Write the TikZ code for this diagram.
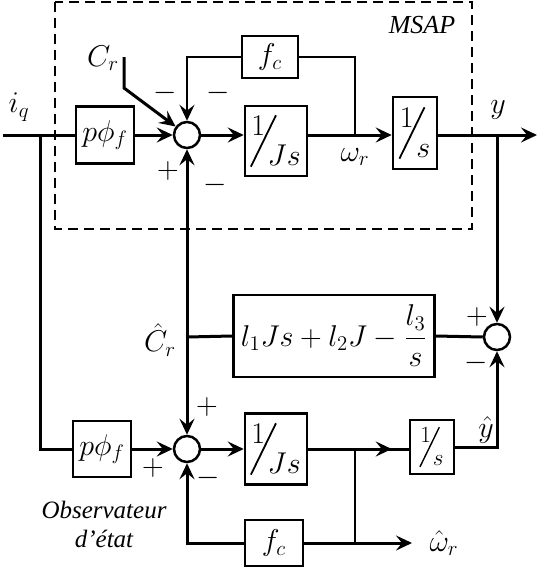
\documentclass[tikz,border=0pt]{standalone}
\usepackage{amsmath}
\usepackage{graphicx}
\usepackage{fontspec}
\setmainfont{Liberation Serif}
\usetikzlibrary{arrows.meta}
% slanted fraction as in the block diagram
\newcommand{\slfrac}[2]{\raisebox{.5em}{$#1$}\kern-.5em\raisebox{-.55em}{\rotatebox{64}{\rule{1.9em}{.06em}}}\kern-.3em\raisebox{-.5em}{$#2$}}
% math at a larger size
\newcommand{\mth}[1]{\scalebox{1.45}{$#1$}}

\begin{document}
\begin{tikzpicture}[x=1pt, y=-1pt,
        blk/.style={draw, line width=2.5pt, inner sep=0pt, font=\fontsize{20.74}{25}\selectfont},
        sumnode/.style={draw, circle, line width=2.5pt, minimum size=26pt, inner sep=0pt},
        sig/.style={line width=3pt},
        thinsig/.style={line width=2pt},
        arr/.style={-{Stealth[length=16pt, width=15pt, inset=6pt]}},
        lbl/.style={font=\fontsize{20.74}{25}\selectfont, inner sep=0pt},
        sgn/.style={font=\fontsize{20.74}{25}\selectfont, inner sep=0pt}]
        \useasboundingbox (0,0) rectangle (541,568);

        % MSAP
        \draw[line width=2.5pt, dash pattern=on 10pt off 6pt] (55,2) rectangle (472,229);
        \node[font=\itshape\fontsize{26}{30}\selectfont] (msap) at (422,25) {MSAP};

        \node[blk, minimum width=58pt, minimum height=57pt] (pf1) at (105,135) {\mth{p\phi_f}};
        \node[sumnode] (sum1) at (187,135) {};
        \node[blk, minimum width=56pt, minimum height=42pt] (fc1) at (270,57) {\mth{f_c}};
        \node[blk, minimum width=62pt, minimum height=70pt] (js1) at (276,141) {\scalebox{1.45}{\slfrac{1}{Js}}};
        \node[blk, minimum width=44pt, minimum height=72pt] (s1) at (415,133) {\scalebox{1.45}{\slfrac{1}{s}}};

        \node[lbl] (iq) at (19,107) {\mth{i_q}};
        \node[lbl] (cr) at (103,58) {\mth{C_r}};
        \node[lbl] (wr) at (355,157) {\mth{\omega_r}};
        \node[lbl] (y) at (498,110) {\mth{y}};

        \node[sgn] (m1) at (165,93) {\mth{-}};
        \node[sgn] (m2) at (218,93) {\mth{-}};
        \node[sgn] (p1) at (168,171) {\mth{+}};
        \node[sgn] (m3) at (215,185) {\mth{-}};

        \coordinate (iqin) at (3,135);
        \coordinate (iqj) at (40,135);
        \coordinate (crs) at (124,57);
        \coordinate (crk) at (124,88);
        \coordinate (wrj) at (355,135);
        \coordinate (yj) at (497,135);
        \coordinate (yout) at (537,135);

        \draw[sig] (iqin) -- (pf1.west);
        \draw[sig, arr] (pf1.east) -- (sum1.west);
        \draw[sig, arr] (crs) -- (crk) -- (sum1);
        \draw[thinsig, arr] (fc1.west) -| (sum1.north);
        \draw[thinsig] (fc1.east) -| (wrj);
        \draw[sig, arr] (sum1.east) -- (sum1.east -| js1.west);
        \draw[sig, arr] (js1.east |- sum1.east) -- (s1.west |- sum1.east);
        \draw[sig, arr] (s1.east |- sum1.east) -- (yout);

        % observateur
        \node[sumnode] (sum3) at (497,337) {};
        \node[blk, minimum width=201pt, minimum height=82pt] (lbox) at (334,336) {\mth{l_1Js+l_2J-\dfrac{l_3}{s}}};
        \node[lbl] (crh) at (160,340) {\mth{\hat{C}_r}};
        \node[sgn] (p3) at (477,317) {\mth{+}};
        \node[sgn] (m5) at (476,363) {\mth{-}};

        \node[blk, minimum width=58pt, minimum height=56pt] (pf2) at (102,449) {\mth{p\phi_f}};
        \node[sumnode] (sum2) at (187,449) {};
        \node[blk, minimum width=62pt, minimum height=71pt] (js2) at (276,449) {\scalebox{1.45}{\slfrac{1}{Js}}};
        \node[blk, minimum width=44pt, minimum height=54pt] (s2) at (432,447) {\scalebox{1.12}{\slfrac{1}{s}}};
        \node[blk, minimum width=58pt, minimum height=46pt] (fc2) at (274,543) {\mth{f_c}};

        \node[lbl] (yh) at (486,430) {\mth{\hat{y}}};
        \node[lbl] (wrh) at (444,543) {\mth{\hat{\omega}_r}};
        \node[sgn] (p4) at (207,407) {\mth{+}};
        \node[sgn] (p5) at (153,468) {\mth{+}};
        \node[sgn] (m4) at (208,478) {\mth{-}};
        \node[font=\itshape\fontsize{25}{29}\selectfont, align=center] (obs) at (104,524) {Observateur\\d’état};

        \coordinate (crj) at (187,337);
        \coordinate (wrhj) at (355,449);
        \coordinate (wrhk) at (355,543);
        \coordinate (wrhout) at (412,543);

        \draw[sig, arr] (yj) -- (sum3.north);
        \draw[sig] (sum3.west) -- (lbox.east);
        \draw[sig] (lbox.west) -- (crj);
        \draw[sig, arr] (crj) -- (sum1.south);
        \draw[sig, arr] (crj) -- (sum2.north);
        \draw[sig] (iqj) |- (pf2.west);
        \draw[sig, arr] (pf2.east) -- (sum2.west);
        \draw[sig, arr] (sum2.east) -- (js2.west);
        \draw[sig] (js2.east) -- (js2.east -| s2.west);
        \draw[sig, arr] (wrhj) -- ([xshift=-17pt]js2.east -| s2.west);
        \draw[sig, arr] (s2.east) -| (sum3.south);
        \draw[thinsig] (wrhj) -- (wrhk);
        \draw[sig] (wrhk) -- (fc2.east);
        \draw[sig, arr] (wrhk) -- (wrhout);
        \draw[sig, arr] (fc2.west) -| (sum2.south);

    \end{tikzpicture}
\end{document}
